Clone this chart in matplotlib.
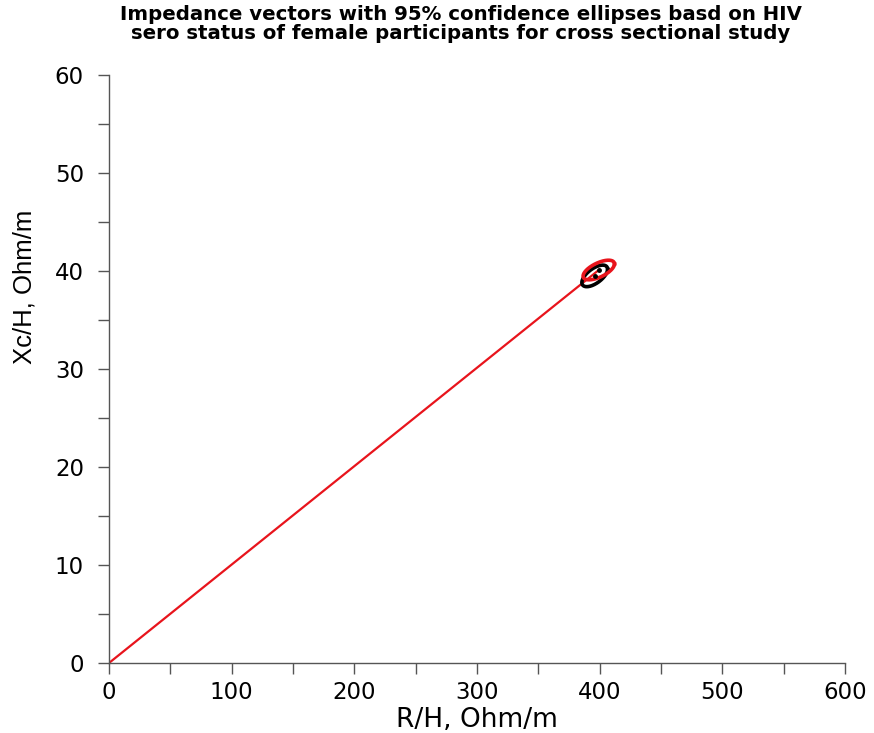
import numpy as np
import matplotlib
matplotlib.use("Agg")
import matplotlib.pyplot as plt
from matplotlib.ticker import MultipleLocator

plt.rcParams['font.family'] = ['DejaVu Sans']

# Mean impedance vectors (R/H, Xc/H) by HIV sero status
groups = ["HIV negative", "HIV positive"]
mean_r = [396.0, 399.3]
mean_xc = [39.5, 40.1]
# Half-widths of the 95% confidence ellipses along each axis and R/Xc correlation
half_r = [10.5, 12.8]
half_xc = [1.1, 1.0]
corr = [0.62, 0.62]
colors = ["black", "#e8141c"]

fig = plt.figure(figsize=(8.74, 7.33), dpi=100)
ax = fig.add_axes([0.1247, 0.0955, 0.8421, 0.8022])

# impedance vector from the origin to the mean point
ax.plot([0, mean_r[1]], [0, mean_xc[1]], color=colors[1], lw=1.6, zorder=2)

t = np.linspace(0, 2 * np.pi, 400)
for i in range(len(groups)):
    cov = np.array([[half_r[i] ** 2, corr[i] * half_r[i] * half_xc[i]],
                    [corr[i] * half_r[i] * half_xc[i], half_xc[i] ** 2]])
    L = np.linalg.cholesky(cov)
    pts = L @ np.vstack([np.cos(t), np.sin(t)])
    ax.plot(mean_r[i] + pts[0], mean_xc[i] + pts[1], color=colors[i], lw=2.6, zorder=3)
for i in range(len(groups)):
    ax.plot(mean_r[i], mean_xc[i], 'o', color='black', ms=2.5, zorder=4)

ax.set_xlim(0, 600)
ax.set_ylim(0, 60)
ax.xaxis.set_major_locator(MultipleLocator(100))
ax.xaxis.set_minor_locator(MultipleLocator(50))
ax.yaxis.set_major_locator(MultipleLocator(10))
ax.yaxis.set_minor_locator(MultipleLocator(5))

for side in ("top", "right"):
    ax.spines[side].set_visible(False)
for side in ("left", "bottom"):
    ax.spines[side].set_color("#555555")
    ax.spines[side].set_linewidth(1.0)
ax.tick_params(which="both", direction="out", color="#555555", width=1.0, length=8)
ax.tick_params(axis="x", which="major", labelsize=16.5, pad=5)
ax.tick_params(axis="y", which="major", labelsize=16.5, pad=10)

ax.set_xlabel("R/H, Ohm/m", fontsize=19, labelpad=2)
ax.set_ylabel("Xc/H, Ohm/m", fontsize=18.5,
              family=["Liberation Sans", "DejaVu Sans"])
ax.yaxis.set_label_coords(-0.098, 0.64)

fig.text(0.527, 0.993, "Impedance vectors with 95% confidence ellipses basd on HIV\n"
         "sero status of female participants for cross sectional study",
         ha="center", va="top", fontsize=14.2, fontweight="bold", linespacing=0.98)

fig.savefig("out.png", dpi=100)
